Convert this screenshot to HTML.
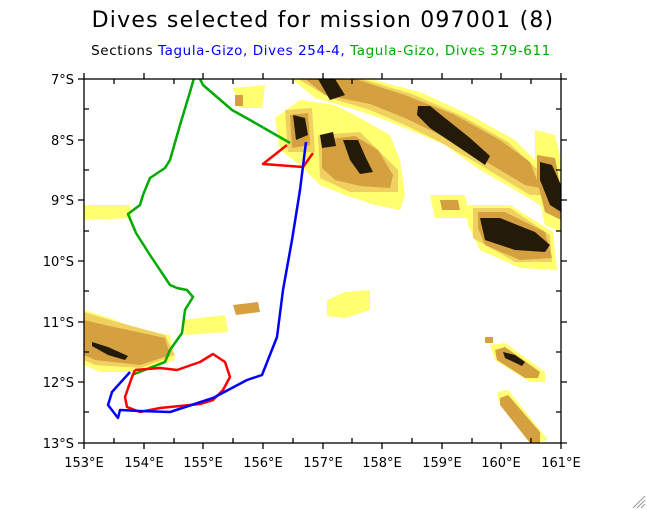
<!DOCTYPE html>
<html><head><meta charset="utf-8"><style>
body{margin:0;background:#fff;width:647px;height:510px;overflow:hidden}
svg{display:block}
text{font-family:"DejaVu Sans","Liberation Sans",sans-serif}
</style></head><body>
<svg width="647" height="510" viewBox="0 0 647 510" xmlns="http://www.w3.org/2000/svg">
<defs><clipPath id="c"><rect x="84" y="79" width="477" height="364"/></clipPath></defs>
<text x="323" y="27" font-size="22" text-anchor="middle" fill="#000" letter-spacing="1.2">Dives selected for mission 097001 (8)</text>
<text x="321" y="55" font-size="13.5" text-anchor="middle" letter-spacing="0.6"><tspan fill="#000">Sections </tspan><tspan fill="#0000ff">Tagula-Gizo, Dives 254-4, </tspan><tspan fill="#00aa00">Tagula-Gizo, Dives 379-611</tspan></text>
<g clip-path="url(#c)">
<!-- yellow -->
<g fill="#ffff70">
<path d="M292,79 L370,79 L420,92 L470,115 L515,140 L545,170 L555,200 L540,205 L515,190 L480,170 L445,145 L410,130 L380,118 L350,108 L315,98 Z"/>
<path d="M275,118 L300,100 L335,105 L360,118 L390,135 L400,160 L405,195 L400,210 L375,205 L345,195 L320,185 L300,165 L280,150 Z"/>
<path d="M233,88 L265,85 L262,108 L240,108 Z"/>
<path d="M430,195 L465,195 L470,218 L435,218 Z"/>
<path d="M468,205 L510,205 L553,232 L557,270 L520,268 L480,250 L468,225 Z"/>
<path d="M535,130 L555,135 L561,160 L561,232 L545,225 L535,180 Z"/>
<path d="M84,205 L130,205 L132,218 L84,220 Z"/>
<path d="M327,300 L345,292 L370,290 L370,310 L345,318 L327,316 Z"/>
<path d="M183,320 L225,315 L228,332 L185,335 Z"/>
<path d="M84,310 L110,318 L140,330 L170,335 L175,360 L140,372 L100,372 L84,365 Z"/>
<path d="M490,345 L505,343 L545,372 L545,382 L530,382 L495,360 Z"/>
<path d="M498,392 L508,390 L548,440 L535,443 L498,400 Z"/>
</g>
<!-- light tan -->
<g fill="#f0d060">
<path d="M298,79 L362,79 L412,94 L462,116 L508,142 L538,170 L548,195 L530,195 L505,180 L475,162 L440,142 L405,125 L370,110 L330,98 Z"/>
<path d="M285,110 L312,108 L315,152 L288,152 Z"/>
<path d="M318,135 L360,132 L398,170 L398,192 L350,192 L320,178 Z"/>
<path d="M473,208 L510,208 L550,235 L552,262 L515,262 L473,238 Z"/>
<path d="M84,312 L110,320 L165,335 L175,355 L140,368 L95,365 L84,360 Z"/>
</g>
<!-- tan -->
<g fill="#d4a040">
<path d="M305,79 L355,79 L405,95 L455,115 L500,140 L530,162 L540,188 L525,185 L500,170 L470,152 L440,135 L405,118 L370,104 L325,95 Z"/>
<path d="M290,115 L308,113 L310,145 L292,148 Z"/>
<path d="M322,140 L355,136 L378,150 L393,175 L390,188 L360,186 L335,180 L322,168 Z"/>
<path d="M478,212 L505,212 L545,232 L552,258 L520,260 L485,245 L478,228 Z"/>
<path d="M537,155 L555,158 L561,190 L561,220 L545,212 L537,180 Z"/>
<path d="M440,200 L458,200 L460,210 L442,210 Z"/>
<path d="M235,95 L243,95 L243,106 L235,106 Z"/>
<path d="M84,320 L105,325 L165,338 L170,355 L140,365 L95,360 L84,355 Z"/>
<path d="M495,350 L505,347 L540,372 L538,378 L525,378 L497,360 Z"/>
<path d="M500,398 L508,395 L540,432 L540,443 L530,443 L500,405 Z"/>
<path d="M485,337 L493,337 L493,343 L485,343 Z"/>
<path d="M233,305 L258,302 L260,312 L236,315 Z"/>
</g>
<!-- dark -->
<g fill="#241a0a">
<path d="M318,79 L335,79 L345,95 L330,100 Z"/>
<path d="M418,106 L430,106 L470,138 L490,156 L485,165 L460,148 L430,128 L417,115 Z"/>
<path d="M293,115 L305,118 L308,135 L296,140 Z"/>
<path d="M320,135 L333,132 L336,146 L322,148 Z"/>
<path d="M343,140 L358,140 L366,158 L373,172 L360,174 L350,160 Z"/>
<path d="M480,218 L500,218 L535,232 L550,245 L545,252 L515,250 L485,240 Z"/>
<path d="M540,162 L552,165 L561,185 L561,212 L550,205 L540,180 Z"/>
<path d="M92,342 L108,347 L128,356 L125,360 L108,355 L92,346 Z"/>
<path d="M503,352 L515,355 L525,362 L522,366 L505,358 Z"/>
</g>
<!-- tracks -->
<g fill="none" stroke-width="2.5" stroke-linejoin="round">
<polyline stroke="#00aa00" points="290,143 250,120 232,110 203,85 196,71 190,92 180,125 170,160 165,168 150,178 143,195 140,205 128,214 136,233 150,255 170,285 177,288 187,290 193,297 185,310 182,333 170,350 165,362 132,375"/>
<polyline stroke="#ff0000" points="287,145 263,164 303,167 313,153"/>
<polyline stroke="#ff0000" points="135,370 160,368 177,370 200,362 213,354 225,362 230,377 223,390 213,400 200,404 160,408 140,412 127,407 125,397 132,377 135,370"/>
<polyline stroke="#0000ff" points="306,142 300,190 292,240 283,290 277,337 262,375 247,380 213,398 170,412 140,411 120,410 118,418 108,405 112,392 130,372"/>
</g>
</g>
<!-- axes -->
<g stroke="#000" stroke-width="1.3" fill="none">
<rect x="84" y="79" width="477" height="364"/>
<path d="M84,79h-6M84,140h-6M84,200h-6M84,261h-6M84,322h-6M84,382h-6M84,443h-6
M84,443v6M144,443v6M203,443v6M263,443v6M323,443v6M382,443v6M442,443v6M501,443v6M561,443v6
M561,79h6M561,140h6M561,200h6M561,261h6M561,322h6M561,382h6M561,443h6
M84,79v-6M144,79v-6M203,79v-6M263,79v-6M323,79v-6M382,79v-6M442,79v-6M501,79v-6M561,79v-6
M114,79v5M174,79v5M233,79v5M293,79v5M352,79v5M412,79v5M472,79v5M531,79v5
M114,443v-5M174,443v-5M233,443v-5M293,443v-5M352,443v-5M412,443v-5M472,443v-5M531,443v-5
M84,109h5M84,170h5M84,231h5M84,291h5M84,352h5M84,412h5
M561,109h-5M561,170h-5M561,231h-5M561,291h-5M561,352h-5M561,412h-5"/>
</g>
<g font-size="13" fill="#000" text-anchor="end">
<text x="74" y="84">7°S</text><text x="74" y="145">8°S</text><text x="74" y="205">9°S</text>
<text x="74" y="266">10°S</text><text x="74" y="327">11°S</text><text x="74" y="387">12°S</text><text x="74" y="448">13°S</text>
</g>
<g font-size="13" fill="#000" text-anchor="middle">
<text x="84" y="467">153°E</text><text x="144" y="467">154°E</text><text x="203" y="467">155°E</text>
<text x="263" y="467">156°E</text><text x="323" y="467">157°E</text><text x="382" y="467">158°E</text>
<text x="442" y="467">159°E</text><text x="501" y="467">160°E</text><text x="561" y="467">161°E</text>
</g>
<g stroke="#999" stroke-width="1"><path d="M633,508L645,496M637,508L645,500M641,508L645,504"/></g>
</svg>
</body></html>
